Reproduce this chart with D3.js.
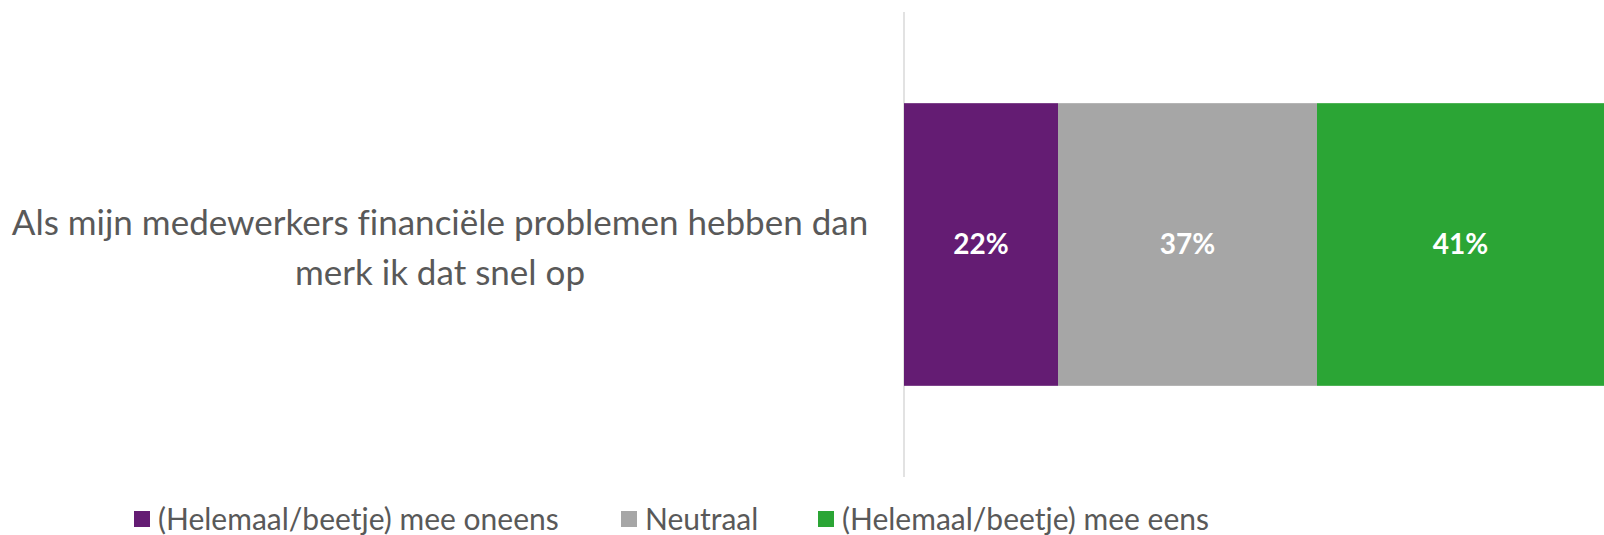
<!DOCTYPE html>
<html>
<head>
<meta charset="utf-8">
<script src="https://cdn.jsdelivr.net/npm/d3@7"></script>
<style>
  html, body { margin: 0; padding: 0; background: #ffffff; }
  svg { display: block; }
  text { font-variant-ligatures: none; }
</style>
</head>
<body>
<svg id="chart" width="1604" height="535"></svg>
<script>
// Survey statement and the share of answers per response group
const categories = ["Als mijn medewerkers financiële problemen hebben dan merk ik dat snel op"];
const categoryLines = [["Als mijn medewerkers financiële problemen hebben dan", "merk ik dat snel op"]];
const seriesNames = ["(Helemaal/beetje) mee oneens", "Neutraal", "(Helemaal/beetje) mee eens"];
const seriesValues = [[22], [37], [41]];
const seriesColors = ["#641c73", "#a6a6a6", "#2ba535"];

const W = 1604, H = 535;
const margin = { left: 904, right: 0, top: 12, bottom: 58 };
const font = "Lato, 'Open Sans', sans-serif";
const textColor = "#595959";

const svg = d3.select("#chart");

const x = d3.scaleLinear().domain([0, 100]).range([margin.left, W - margin.right]);
const y = d3.scaleBand().domain(categories).range([margin.top, H - margin.bottom]).paddingInner(0.38).paddingOuter(0.2);

// stack the series for each category
const rows = categories.map((c, i) => {
  const r = { category: c };
  seriesNames.forEach((s, j) => r[s] = seriesValues[j][i]);
  return r;
});
const stacked = d3.stack().keys(seriesNames)(rows);

// vertical category axis line
svg.append("line")
  .attr("x1", x(0)).attr("x2", x(0))
  .attr("y1", margin.top).attr("y2", H - margin.bottom)
  .attr("stroke", "#d9d9d9").attr("stroke-width", 1.5);

const groups = svg.selectAll("g.series").data(stacked).join("g")
  .attr("class", "series")
  .attr("fill", (d, i) => seriesColors[i]);

groups.selectAll("rect").data(d => d).join("rect")
  .attr("x", d => x(d[0]))
  .attr("width", d => x(d[1]) - x(d[0]))
  .attr("y", d => y(d.data.category))
  .attr("height", y.bandwidth());

// value labels inside segments
groups.selectAll("text").data(d => d.map(v => ({ v, key: d.key }))).join("text")
  .attr("x", d => (x(d.v[0]) + x(d.v[1])) / 2)
  .attr("y", d => y(d.v.data.category) + y.bandwidth() / 2)
  .attr("dy", "0.35em")
  .attr("text-anchor", "middle")
  .attr("fill", "#ffffff")
  .attr("font-family", font)
  .attr("font-weight", "bold")
  .attr("font-size", 28)
  .text(d => d.v.data[d.key] + "%");

// category label, two centred lines left of the axis
categories.forEach((c, i) => {
  const cy = y(c) + y.bandwidth() / 2;
  const lines = categoryLines[i];
  const t = svg.append("text")
    .attr("text-anchor", "middle")
    .attr("fill", textColor)
    .attr("font-family", font)
    .attr("font-size", 35);
  lines.forEach((ln, k) => {
    t.append("tspan")
      .attr("x", 440)
      .attr("y", cy + 3 + (k - (lines.length - 1) / 2) * 50)
      .attr("dy", "0.35em")
      .text(ln);
  });
});

// legend along the bottom
const legendX = [134, 621, 818];
const legend = svg.append("g").attr("class", "legend");
seriesNames.forEach((s, i) => {
  const g = legend.append("g").attr("transform", `translate(${legendX[i]},519)`);
  g.append("rect").attr("x", 0).attr("y", -8).attr("width", 16).attr("height", 16).attr("fill", seriesColors[i]);
  g.append("text").attr("x", 24).attr("y", 0).attr("dy", "0.35em")
    .attr("fill", textColor).attr("font-family", font).attr("font-size", 30)
    .text(s);
});
</script>
</body>
</html>
